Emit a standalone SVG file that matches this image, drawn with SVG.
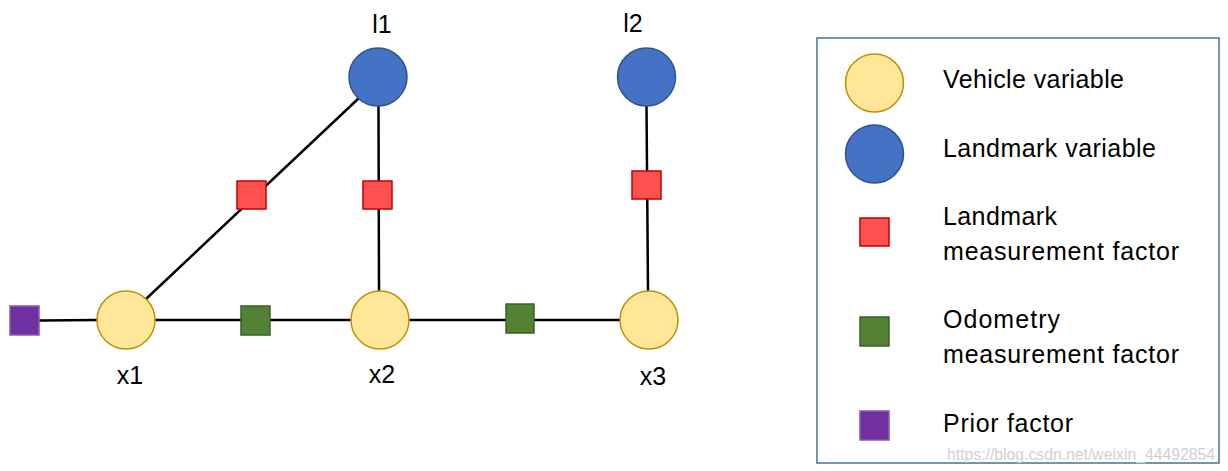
<svg xmlns="http://www.w3.org/2000/svg" width="1228" height="471" viewBox="0 0 1228 471">
<style>
.veh{fill:#FFE699;stroke:#BF9000;stroke-width:1.5}
.lm{fill:#4472C4;stroke:#2F528F;stroke-width:1.5}
.lf{fill:#FF5050;stroke:#C00000;stroke-width:1.5}
.of{fill:#548235;stroke:#3B5E27;stroke-width:1.5}
.pf{fill:#7030A0;stroke:#8C5AB4;stroke-width:1.5}
.edge{stroke:#000;stroke-width:2.5;fill:none}
text{font-family:"Liberation Sans",Arial,sans-serif;font-size:25px;fill:#000}
.lbl{text-anchor:middle}
.wm{font-size:16px;fill:#D0D0D0}
</style>
<g id="connectors">
<line class="edge" x1="39" y1="320.5" x2="97" y2="320"/>
<line class="edge" x1="155" y1="320" x2="351" y2="320"/>
<line class="edge" x1="409" y1="320" x2="620" y2="320"/>
<line class="edge" x1="146" y1="299" x2="359" y2="98"/>
<line class="edge" x1="378.5" y1="106" x2="379" y2="291"/>
<line class="edge" x1="646.5" y1="106" x2="648" y2="291"/>
</g>
<g id="prior"><rect class="pf" x="10" y="306" width="29" height="29"/></g>
<g id="x1"><circle class="veh" cx="126" cy="320" r="29"/><text class="lbl" x="130" y="384">x1</text></g>
<g id="odo1"><rect class="of" x="241" y="306" width="29" height="29"/></g>
<g id="x2"><circle class="veh" cx="380" cy="320" r="29"/><text class="lbl" x="382" y="383">x2</text></g>
<g id="odo2"><rect class="of" x="506" y="304" width="28" height="29"/></g>
<g id="x3"><circle class="veh" cx="649" cy="320" r="29"/><text class="lbl" x="653" y="385">x3</text></g>
<g id="l1"><circle class="lm" cx="378" cy="77" r="29"/><text class="lbl" x="382" y="33">l1</text></g>
<g id="l2"><circle class="lm" cx="646.5" cy="77" r="29"/><text class="lbl" x="633" y="32">l2</text></g>
<g id="lmf1"><rect class="lf" x="237" y="181" width="29" height="28"/></g>
<g id="lmf2"><rect class="lf" x="363" y="181" width="29" height="28"/></g>
<g id="lmf3"><rect class="lf" x="632" y="171" width="29" height="28"/></g>
<g id="legend">
<rect x="817" y="38" width="402" height="425" fill="#fff" stroke="#41719C" stroke-width="1.5"/>
<circle class="veh" cx="874.5" cy="83" r="29"/>
<text x="943" y="88" textLength="181">Vehicle variable</text>
<circle class="lm" cx="874.5" cy="154" r="29"/>
<text x="943" y="157" textLength="213">Landmark variable</text>
<rect class="lf" x="860" y="218" width="29" height="28"/>
<text x="943" y="225" textLength="114">Landmark</text>
<text x="943" y="260" textLength="236">measurement factor</text>
<rect class="of" x="860" y="317" width="29" height="29"/>
<text x="943" y="328" textLength="117">Odometry</text>
<text x="943" y="363" textLength="236">measurement factor</text>
<rect class="pf" x="860" y="411" width="29" height="29"/>
<text x="943" y="432" textLength="130">Prior factor</text>
<text class="wm" x="947" y="460" textLength="268" lengthAdjust="spacingAndGlyphs">https://blog.csdn.net/weixin_44492854</text>
</g>
</svg>
